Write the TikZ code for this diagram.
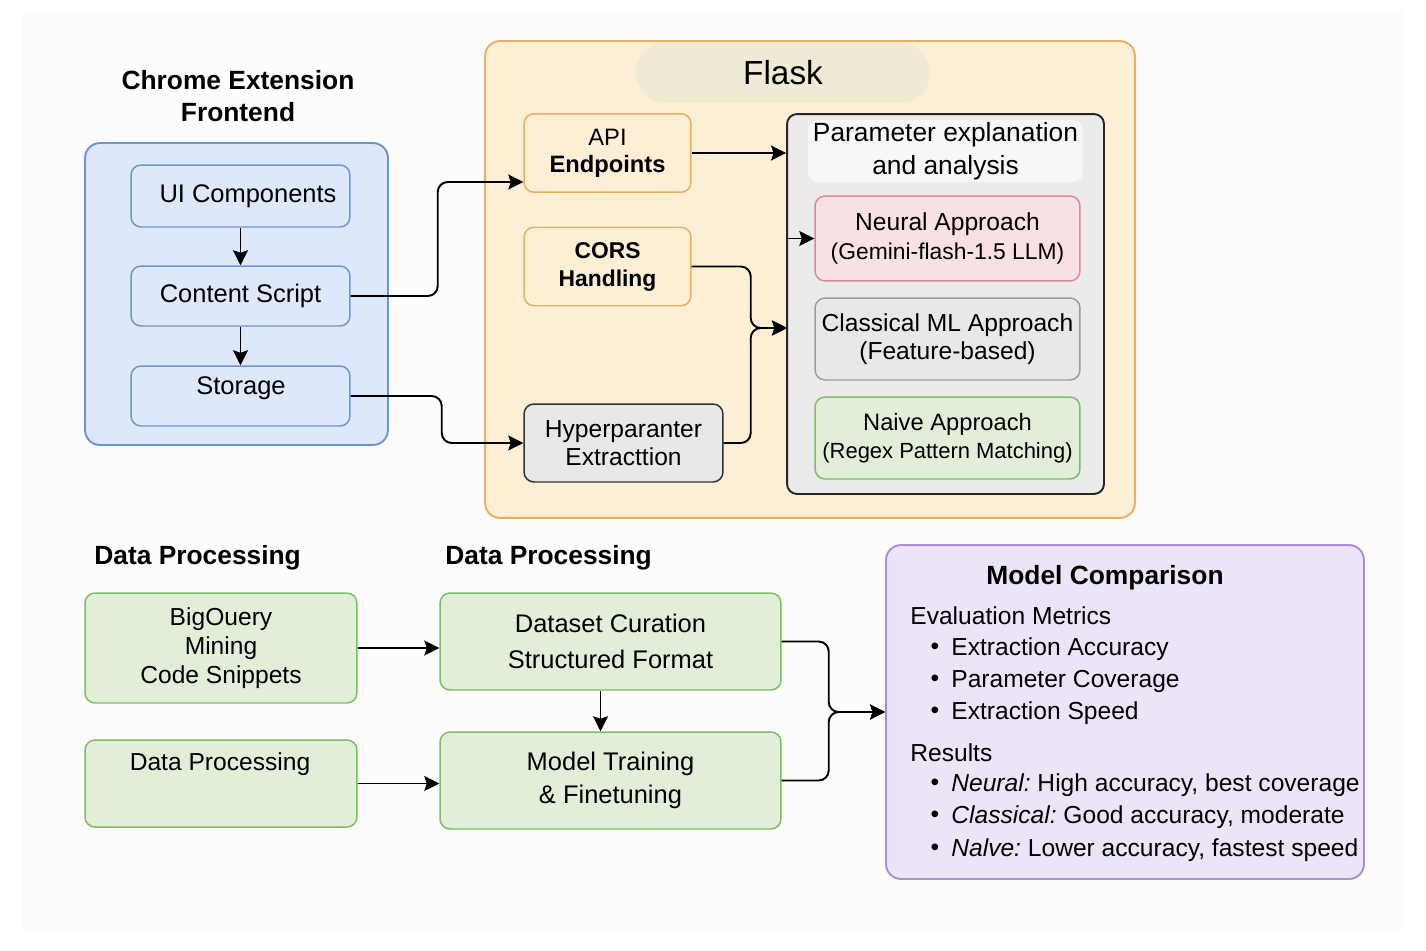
\documentclass[tikz,border=0pt]{standalone}
\usepackage{fontspec}
\setmainfont{Liberation Sans}
\usetikzlibrary{arrows.meta}

\definecolor{bluefill}{HTML}{DDE8FB}
\definecolor{blueline}{HTML}{7093D4}
\definecolor{flaskfill}{HTML}{FCEFD6}
\definecolor{flaskline}{HTML}{E6B160}
\definecolor{pillfill}{HTML}{EEEAD3}
\definecolor{grayfill}{HTML}{E8E8E8}
\definecolor{paramfill}{HTML}{EBEBEB}
\definecolor{redfill}{HTML}{F9E0E3}
\definecolor{redline}{HTML}{D98A93}
\definecolor{midgray}{HTML}{9C9C9C}
\definecolor{greenfill}{HTML}{E1EFD9}
\definecolor{greenline}{HTML}{7EBD66}
\definecolor{purplefill}{HTML}{ECE4F7}
\definecolor{purpleline}{HTML}{AC8FD9}

\newcommand{\sz}[2]{\fontsize{#1}{#2}\selectfont}

\tikzset{
	box/.style={draw, rounded corners=0.2cm, line width=0.85pt, inner sep=0pt, align=center},
	bluebox/.style={box, draw=blueline, fill=bluefill, minimum width=4.38cm, minimum height=1.2cm},
	orangebox/.style={box, draw=flaskline, fill=flaskfill, minimum width=3.34cm, minimum height=1.57cm, font=\sz{13.5}{15.5}},
	greenbox/.style={box, draw=greenline, fill=greenfill, font=\sz{14}{16.5}},
	approach/.style={box, minimum width=5.3cm, minimum height=1.64cm, font=\sz{14}{16}},
	group/.style={box, rounded corners=0.3cm, line width=1.1pt},
	headline/.style={inner sep=0pt, align=center, font=\sz{15}{18.2}\bfseries},
	txt/.style={inner sep=0pt},
	arrow/.style={-{Stealth[length=0.3cm,width=0.3cm,inset=0.05cm]}, line width=1.1pt, rounded corners=0.2cm}
}

\begin{document}
\begin{tikzpicture}[x=0.02cm,y=-0.02cm,font=\sz{14.5}{18}]
\useasboundingbox (0,0) rectangle (1426,950);
\fill[black!1] (22,11) rectangle (1403,930);

%Chrome Extension
\node[headline] (chrometitle) at (238,96) {Chrome Extension\\Frontend};
\node[group, draw=blueline, fill=bluefill, minimum width=6.06cm, minimum height=6.04cm] (chrome) at (236.5,294) {};
\node[bluebox, minimum height=1.24cm] (ui) at (240.5,196) {\hspace{0.3cm}UI Components};
\node[bluebox] (content) at (240.5,296) {Content Script};
\node[bluebox] (storage) at (240.5,396) {};
\node[txt] (storagetxt) at (241,388) {Storage};

\draw[arrow] (ui) -- (content);
\draw[arrow] (content) -- (storage);

%Flask
\node[group, draw=flaskline, fill=flaskfill, minimum width=13cm, minimum height=9.54cm] (flask) at (810,279.5) {};
\node[box, draw=none, fill=pillfill, rounded corners=0.6cm, minimum width=5.88cm, minimum height=1.2cm, font=\sz{19}{22}] (flasktitle) at (783,73) {Flask};
\node[orangebox] (api) at (607.5,153) {API\\\textbf{Endpoints}};
\node[orangebox, font=\sz{13}{16}\bfseries] (cors) at (607.5,266.5) {CORS\\Handling};
\node[box, draw=black!80, fill=grayfill, minimum width=3.98cm, minimum height=1.56cm, font=\sz{14}{16}] (hyper) at (623.5,443) {Hyperparanter\\Extracttion};

%Parameter explanation
\node[box, draw=black!85, fill=paramfill, line width=1.1pt, minimum width=6.34cm, minimum height=7.6cm] (param) at (945.5,304) {};
\node[box, draw=none, fill=white!60!paramfill, minimum width=5.5cm, minimum height=1.24cm, font=\sz{15}{19}] (paramtitle) at (945.5,151) {Parameter explanation\\and analysis};
\node[approach, draw=redline, fill=redfill, minimum height=1.7cm] (neural) at (947.5,238.5) {Neural Approach\\\sz{13}{16}(Gemini-flash-1.5 LLM)};
\node[approach, draw=midgray, fill=grayfill] (classical) at (947.5,339) {Classical ML Approach\\(Feature-based)};
\node[approach, draw=greenline, fill=greenfill, font=\sz{13.5}{16}] (naive) at (947.5,438) {Naive Approach\\\sz{12.5}{16}(Regex Pattern Matching)};

\draw[arrow] (content.east) -- ++(87,0) |- ([yshift=-0.58cm]api.west);
\draw[arrow] (storage.east) -- ++(91,0) |- (hyper.west);
\draw[arrow] (api.east) -- (api.east -| param.west);
\draw[arrow] (param.west |- neural.west) -- (neural.west);
\coordinate (merge) at (787,328);
\draw[arrow] (cors.east) -- ++(59,0) |- (merge);
\draw[arrow] (hyper.east) -- ++(27,0) |- (merge);

%Data Processing
\node[headline, anchor=west] (dptitle) at (94,558) {Data Processing};
\node[headline, anchor=west] (dptitle2) at (445,558) {Data Processing};
\node[greenbox, minimum width=5.44cm, minimum height=2.2cm] (bigquery) at (221,648) {BigOuery\\Mining\\Code Snippets};
\node[greenbox, minimum width=5.44cm, minimum height=1.74cm] (dataproc) at (221,783.5) {};
\node[txt, font=\sz{14}{16.5}] (dataproctxt) at (220,764) {Data Processing};
\node[greenbox, minimum width=6.82cm, minimum height=1.94cm, font=\sz{14.5}{20.5}] (curation) at (610.5,641.5) {Dataset Curation\\Structured Format};
\node[greenbox, minimum width=6.82cm, minimum height=1.94cm, font=\sz{14.5}{19}] (training) at (610.5,780.5) {Model Training\\\& Finetuning};

\draw[arrow] (bigquery.east) -- (bigquery.east -| curation.west);
\draw[arrow] (dataproc.east) -- (dataproc.east -| training.west);
\draw[arrow] ([xshift=-0.2cm]curation.south) -- ([xshift=-0.2cm]training.north);

%Model Comparison
\node[group, draw=purpleline, fill=purplefill, minimum width=9.56cm, minimum height=6.68cm] (comparison) at (1125,712) {};
\node[headline] (comptitle) at (1105,578) {Model Comparison};
\node[txt, anchor=west, font=\sz{14}{17}] (metrics) at (910,616) {Evaluation Metrics};
\foreach \y/\t in {649/Extraction Accuracy, 681/Parameter Coverage, 713/Extraction Speed}
{
	\node[txt, font=\sz{14}{17}] (dot\y) at (935,\y) {\textbullet};
	\node[txt, anchor=west, font=\sz{14}{17}] (item\y) at (951,\y) {\t};
}
\node[txt, anchor=west, font=\sz{14}{17}] (results) at (910,753) {Results};
\foreach \y/\k/\t in {785/Neural/{High accuracy, best coverage}, 817/Classical/{Good accuracy, moderate}, 850/Nalve/{Lower accuracy, fastest speed}}
{
	\node[txt, font=\sz{14}{17}] (dot\y) at (935,\y) {\textbullet};
	\node[txt, anchor=west, font=\sz{14}{17}] (item\y) at (951,\y) {\textit{\k:}\ignorespaces~\ignorespaces\t};
}

\draw[arrow] (curation.east) -- ++(47,0) |- (comparison.west);
\draw[arrow] (training.east) -- ++(47,0) |- (comparison.west);

\end{tikzpicture}
\end{document}
